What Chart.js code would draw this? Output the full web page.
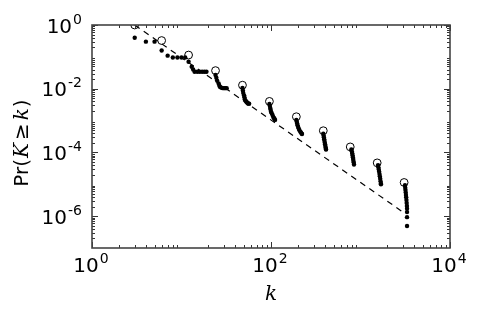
<!DOCTYPE html>
<html>
<head>
<meta charset="utf-8">
<script src="https://cdn.jsdelivr.net/npm/chart.js@4.4.1/dist/chart.umd.min.js"></script>
<style>
    html, body { margin: 0; padding: 0; background: #fff; }
    #wrap { width: 482px; height: 321px; }
</style>
</head>
<body>
<div id="wrap"><canvas id="ccdfChart" width="482" height="321"></canvas></div>
<script>
// 空心圆: 理论值
const circleK = [3, 6, 12, 24, 48, 96, 192, 384, 768, 1536, 3072];
const circleP = [1.0, 0.325, 0.114, 0.037, 0.0129, 0.0040, 0.00132, 0.00048, 0.000149, 0.000047, 0.0000114];

// 黑点: 经验分布
const dotK = [
    3, 4, 5, 6, 7, 8, 9, 10, 11,
    12, 13, 13.5, 14, 15, 16, 17, 18, 19,
    24, 24.5, 25, 26, 26.5, 27, 28, 29, 30, 31, 32,
    48, 48.5, 49, 50, 50.5, 51, 52, 53, 54, 55, 56, 57,
    96, 97, 98, 99, 100, 102, 104, 106, 108, 110, 111,
    192, 194, 196, 198, 201, 204, 208, 212, 216, 220, 222,
    384, 387, 390, 393, 396, 399, 402, 405, 408, 411, 412,
    790, 800, 808, 815, 822, 828, 834, 840, 846,
    1570, 1585, 1600, 1615, 1630, 1645, 1660, 1675, 1690, 1693,
    3140, 3160, 3180, 3200, 3220, 3240, 3260, 3280, 3300, 3311, 3311, 3311, 3311
];
const dotP = [
    0.40, 0.30, 0.30, 0.158, 0.109, 0.095, 0.095, 0.095, 0.095,
    0.070, 0.049, 0.040, 0.034, 0.034, 0.034, 0.034, 0.034, 0.034,
    0.027, 0.022, 0.018, 0.0145, 0.0125, 0.0113, 0.0107, 0.0104, 0.0104, 0.0104, 0.0104,
    0.0105, 0.0088, 0.0074, 0.0062, 0.0054, 0.0047, 0.0042, 0.0039, 0.0037, 0.0035, 0.0034, 0.0034,
    0.0033, 0.0029, 0.0025, 0.0022, 0.0019, 0.0017, 0.0015, 0.0013, 0.0012, 0.0011, 0.00105,
    0.00105, 0.00092, 0.00081, 0.00071, 0.00063, 0.00056, 0.00050, 0.00045, 0.00042, 0.00039, 0.00038,
    0.00039, 0.00034, 0.00030, 0.00026, 0.00023, 0.00020, 0.00018, 0.00016, 0.00014, 0.000128, 0.000124,
    0.000124, 0.000108, 0.000094, 0.000082, 0.000071, 0.000062, 0.000054, 0.000048, 0.000042,
    0.000040, 0.000034, 0.000029, 0.000025, 0.000021, 0.000018, 0.000015, 0.0000125, 0.0000105, 0.0000100,
    0.0000093, 0.0000078, 0.0000066, 0.0000055, 0.0000046, 0.0000039, 0.0000032, 0.0000026, 0.0000021, 0.0000017, 0.00000134,
    0.00000093, 0.00000049
];

// 虚线: 幂律拟合
const fitK = [3, 2985];
const fitP = [1.0, 0.00000134];

// 刻度标签 (10 的指数)
const xLabelExps = [0, 2, 4];
const yLabelExps = [0, -2, -4, -6];

function toPoints(xs, ys) {
    return xs.map((x, i) => ({x: x, y: ys[i]}));
}

// 画 10^n 形式的标签
function drawPow(ctx, exp, x, baseline, align) {
    const base = '10';
    const sup = exp < 0 ? '-' + Math.abs(exp) : String(exp);
    ctx.font = '20px "DejaVu Sans"';
    const wBase = ctx.measureText(base).width;
    ctx.font = '14px "DejaVu Sans"';
    const wSup = ctx.measureText(sup).width;
    const total = wBase + wSup + 1;
    let left = align === 'center' ? x - total / 2 : x - total;
    ctx.textAlign = 'left';
    ctx.textBaseline = 'alphabetic';
    ctx.fillStyle = '#000';
    ctx.font = '20px "DejaVu Sans"';
    ctx.fillText(base, left, baseline);
    ctx.font = '14px "DejaVu Sans"';
    ctx.fillText(sup, left + wBase + 1, baseline - 9);
}

// 坐标框、刻度和标题
const framePlugin = {
    id: 'frame',
    afterDraw(chart) {
        const {ctx, chartArea: a, scales} = chart;
        const xs = scales.x, ys = scales.y;
        ctx.save();

        ctx.strokeStyle = '#333';
        ctx.lineWidth = 1;
        function seg(x1, y1, x2, y2) {
            ctx.beginPath();
            ctx.moveTo(x1, y1);
            ctx.lineTo(x2, y2);
            ctx.stroke();
        }
        // x 轴刻度
        for (let e = 0; e <= 4; e++) {
            for (let m = 1; m <= 9; m++) {
                if (e === 4 && m > 1) break;
                if (m === 1 && e % 2 !== 0) continue;
                const len = m === 1 ? 6 : 3;
                const px = Math.round(xs.getPixelForValue(m * Math.pow(10, e))) + 0.5;
                seg(px, a.bottom, px, a.bottom - len);
                seg(px, a.top, px, a.top + len);
            }
        }
        // y 轴刻度
        for (let e = -7; e <= 0; e++) {
            for (let m = 1; m <= 9; m++) {
                if (e === 0 && m > 1) break;
                if (m === 1 && e % 2 !== 0) continue;
                const len = m === 1 ? 6 : 3;
                const py = Math.round(ys.getPixelForValue(m * Math.pow(10, e))) + 0.5;
                seg(a.left, py, a.left + len, py);
                seg(a.right, py, a.right - len, py);
            }
        }

        ctx.strokeStyle = '#444';
        ctx.lineWidth = 1.6;
        ctx.strokeRect(a.left, a.top, a.right - a.left, a.bottom - a.top);

        // 刻度标签
        xLabelExps.forEach(e => {
            drawPow(ctx, e, xs.getPixelForValue(Math.pow(10, e)) - 1, a.bottom + 24, 'center');
        });
        yLabelExps.forEach(e => {
            drawPow(ctx, e, a.left - 10, ys.getPixelForValue(Math.pow(10, e)) + 7.5, 'right');
        });

        // x 轴标题
        ctx.fillStyle = '#000';
        ctx.font = 'italic 20px "DejaVu Serif"';
        ctx.textAlign = 'center';
        ctx.fillText('k', (a.left + a.right) / 2, 300);

        // y 轴标题 Pr(K≥k)
        const parts = [
            {t: 'Pr(', f: '20px "DejaVu Sans"', gap: 0},
            {t: 'K', f: 'italic 20px "DejaVu Serif"', gap: 1},
            {t: '≥', f: '20px "DejaVu Sans"', gap: 3},
            {t: 'k', f: 'italic 20px "DejaVu Serif"', gap: 3},
            {t: ')', f: '20px "DejaVu Sans"', gap: 1}
        ];
        let total = 0;
        parts.forEach(p => {
            ctx.font = p.f;
            p.w = ctx.measureText(p.t).width;
            total += p.gap + p.w;
        });
        ctx.translate(28, 143);
        ctx.rotate(-Math.PI / 2);
        ctx.textAlign = 'left';
        let cx = -total / 2;
        parts.forEach(p => {
            cx += p.gap;
            ctx.font = p.f;
            ctx.fillText(p.t, cx, 0);
            cx += p.w;
        });
        ctx.restore();
    }
};

const ccdfCtx = document.getElementById('ccdfChart').getContext('2d');
const ccdfChart = new Chart(ccdfCtx, {
    type: 'scatter',
    data: {
        datasets: [{
            label: 'fit',
            type: 'line',
            data: toPoints(fitK, fitP),
            borderColor: '#000',
            borderWidth: 1.2,
            borderDash: [6, 5],
            pointRadius: 0,
            fill: false,
            clip: 0
        }, {
            label: 'theory',
            data: toPoints(circleK, circleP),
            backgroundColor: 'rgba(0, 0, 0, 0)',
            borderColor: '#000',
            borderWidth: 1,
            pointRadius: 3.9,
            clip: 0
        }, {
            label: 'empirical',
            data: toPoints(dotK, dotP),
            backgroundColor: '#000',
            borderWidth: 0,
            pointRadius: 2.2,
            clip: 0
        }]
    },
    options: {
        responsive: false,
        animation: false,
        layout: {
            padding: {left: 92, right: 32, top: 25, bottom: 73}
        },
        plugins: {
            legend: {display: false},
            tooltip: {enabled: false}
        },
        scales: {
            x: {type: 'logarithmic', min: 1, max: 10000, display: false},
            y: {type: 'logarithmic', min: 1e-7, max: 1, display: false}
        }
    },
    plugins: [framePlugin]
});
</script>
</body>
</html>
